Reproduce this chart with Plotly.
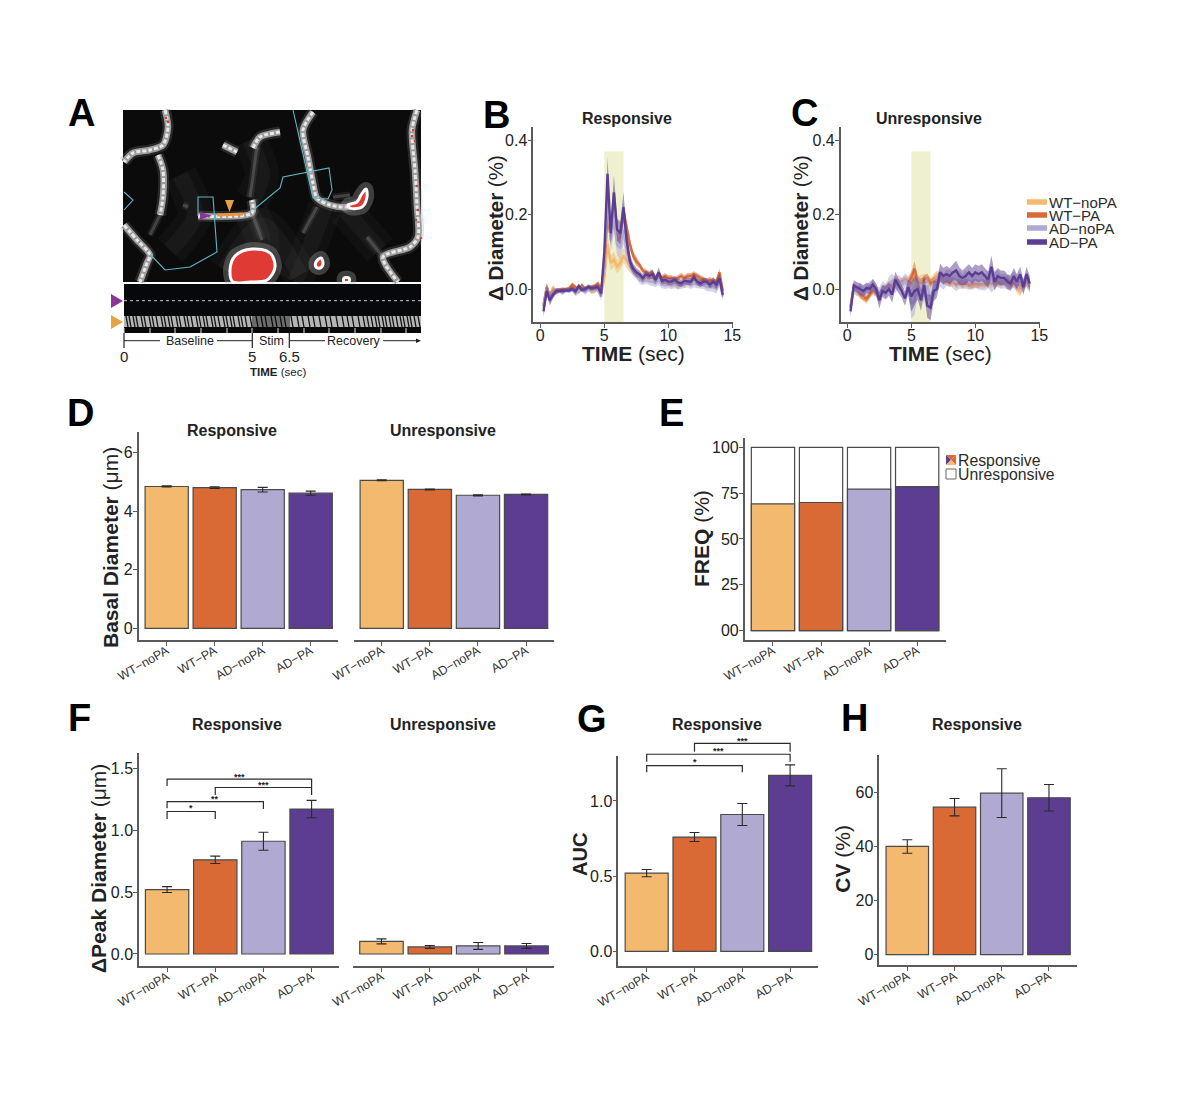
#!/usr/bin/env python3
"""Multi-panel figure: vessel imaging schematic, diameter time courses and bar summaries."""

from __future__ import annotations

import plotly.graph_objects as go

W, H = 1200, 1097
FONT = "Liberation Sans"
AXIS_GREY = "#5a5a5a"
TEXT = "#222222"

GROUPS = ["WT\u2212noPA", "WT\u2212PA", "AD\u2212noPA", "AD\u2212PA"]
COLORS = ["#f3b96f", "#d96a36", "#b0a9d2", "#5c3d92"]

# ---- time courses (panels B, C)
TIME_SEC = [
    0.25, 0.5, 0.75, 1.0, 1.25, 1.5, 1.75, 2.0, 2.25, 2.5,
    2.75, 3.0, 3.25, 3.5, 3.75, 4.0, 4.25, 4.5, 4.75, 5.0,
    5.25, 5.5, 5.75, 6.0, 6.25, 6.5, 6.75, 7.0, 7.25, 7.5,
    7.75, 8.0, 8.25, 8.5, 8.75, 9.0, 9.25, 9.5, 9.75, 10.0,
    10.25, 10.5, 10.75, 11.0, 11.25, 11.5, 11.75, 12.0, 12.25, 12.5,
    12.75, 13.0, 13.25, 13.5, 13.75, 14.0, 14.25,
]
STIM_START, STIM_END, STIM_TOP = 5.0, 6.5, 0.37

B_WT_NOPA = [
    -.04, .005, -.02, .005, -.01, -.005, -.005, .0, -.002, .003,
    .0, -.008, .005, -.005, .002, -.008, -.006, .005, -.015, .03,
    .12, .07, .08, .06, .07, .09, .075, .06, .05, .04,
    .03, .03, .025, .03, .03, .02, .035, .02, .015, .015,
    .01, .015, .005, .015, .01, .02, .02, .025, .02, .02,
    .025, .02, .01, .025, .01, .03, -.005,
]
B_WT_PA = [
    -.045, .005, -.02, -.005, -.005, -.003, .0, -.002, .002, .012,
    .005, -.005, .01, .0, .005, .005, .008, .015, .0, .06,
    .2, .14, .19, .13, .14, .21, .16, .12, .09, .075,
    .065, .05, .045, .04, .045, .03, .04, .03, .035, .03,
    .03, .025, .03, .035, .03, .035, .035, .04, .035, .03,
    .025, .02, .025, .02, .02, .045, -.005,
]
B_AD_NOPA = [
    -.05, .0, -.025, -.01, -.005, -.005, -.01, -.003, -.005, .0,
    -.012, -.005, .002, -.008, .0, -.003, .002, -.003, -.02, .07,
    .26, .13, .2, .12, .11, .16, .1, .07, .05, .04,
    .025, .02, .025, .02, .02, .015, .025, .012, .01, .012,
    .01, .012, .01, .01, .012, .015, .01, .015, .012, .01,
    .01, .005, .005, .005, .0, .02, -.02,
]
B_AD_PA = [
    -.06, -.005, -.03, -.015, -.005, -.004, -.005, -.002, -.003, .001,
    -.006, .008, -.002, .0, .006, .002, .003, .006, -.012, .1,
    .31, .15, .26, .16, .15, .22, .13, .075, .055, .045,
    .04, .03, .04, .035, .04, .025, .045, .022, .025, .02,
    .02, .025, .018, .015, .022, .02, .02, .032, .02, .015,
    .02, .02, .012, .02, .012, .03, -.015,
]
B_SEM_WT = [
    .012, .012, .012, .008, .006, .005, .005, .005, .005, .006,
    .006, .006, .006, .006, .006, .006, .006, .006, .008, .015,
    .025, .02, .02, .018, .018, .02, .02, .015, .012, .012,
    .01, .008, .008, .008, .008, .008, .008, .008, .008, .008,
    .008, .008, .008, .008, .008, .008, .008, .008, .008, .008,
    .008, .008, .008, .008, .008, .01, .01,
]
B_SEM_AD = [
    .015, .015, .014, .01, .008, .006, .006, .006, .006, .007,
    .007, .007, .007, .007, .007, .007, .007, .007, .01, .02,
    .045, .03, .045, .03, .03, .04, .025, .018, .014, .012,
    .01, .01, .01, .01, .012, .01, .014, .01, .01, .01,
    .01, .01, .01, .01, .01, .01, .01, .01, .01, .01,
    .01, .01, .01, .012, .012, .014, .012,
]

C_WT_NOPA = [
    -.045, .008, .0, -.012, -.025, -.03, -.012, .002, -.008, -.015,
    .0, .005, .012, .02, .02, .015, .012, .02, .015, .025,
    .025, .02, .025, .03, .025, .02, .03, .04, .035, .025,
    .03, .02, .015, .025, .02, .015, .012, .018, .01, .012,
    .015, .01, .012, .015, .012, .018, .015, .012, .02, .015,
    .01, .015, .0, -.008, .012, .018, .005,
]
C_WT_PA = [
    -.05, .005, -.005, -.015, -.02, -.025, -.015, -.005, -.01, -.02,
    -.005, .0, .01, .015, .02, .018, .02, .025, .02, .03,
    .055, .02, .015, .025, .03, .015, .02, .025, .03, .022,
    .02, .015, .025, .012, .018, .012, .02, .01, .012, .015,
    .012, .018, .015, .02, .018, .02, .02, .018, .022, .025,
    .015, .018, .012, .01, .015, .02, .012,
]
C_AD_NOPA = [
    -.05, .0, -.005, .005, -.01, .0, .008, .01, -.005, -.018,
    .005, -.005, .015, .02, .01, .02, .012, .022, .015, -.04,
    -.03, .01, .0, -.01, .01, -.03, .0, .015, .03, .02,
    .03, .03, .025, .02, .025, .02, .025, .02, .02, .025,
    .02, .02, .018, .025, .02, .025, .03, .02, .022, .018,
    .02, .025, .015, .018, .01, .025, .01,
]
C_AD_PA = [
    -.06, .01, .005, .0, -.005, .003, .0, .012, .0, -.03,
    -.005, -.01, .0, -.015, .025, .01, -.005, -.025, .005, -.02,
    -.005, .0, -.03, .01, -.045, -.05, -.005, .0, .045, .035,
    .04, .035, .045, .05, .035, .03, .035, .045, .035, .045,
    .04, .045, .035, .025, .06, .02, .035, .03, .03, .02,
    .015, .035, .02, .04, .005, .04, .015,
]
C_SEM_WT = [
    .012, .012, .01, .01, .01, .01, .01, .01, .01, .01,
    .01, .01, .01, .01, .01, .01, .01, .01, .012, .018,
    .02, .014, .012, .012, .012, .012, .012, .01, .01, .01,
    .01, .01, .01, .01, .01, .01, .01, .01, .01, .01,
    .01, .01, .01, .01, .01, .01, .01, .01, .01, .01,
    .01, .01, .012, .012, .012, .012, .012,
]
C_SEM_AD = [
    .016, .014, .014, .014, .016, .014, .014, .016, .016, .022,
    .016, .018, .018, .022, .022, .018, .018, .02, .02, .04,
    .04, .028, .028, .026, .032, .034, .028, .022, .024, .022,
    .022, .022, .022, .026, .024, .02, .024, .022, .022, .022,
    .022, .022, .022, .022, .03, .024, .022, .02, .02, .02,
    .02, .022, .02, .02, .02, .02, .02,
]

# ---- bar panels
D_RESP = [4.84, 4.80, 4.73, 4.61]
D_RESP_ERR = [0.02, 0.03, 0.08, 0.07]
D_UNRESP = [5.05, 4.74, 4.54, 4.57]
D_UNRESP_ERR = [0.015, 0.015, 0.02, 0.015]

E_RESPONSIVE = [69.2, 69.9, 77.2, 78.5]
E_TOTAL = [100, 100, 100, 100]

F_RESP = [0.52, 0.76, 0.91, 1.17]
F_RESP_ERR = [0.024, 0.03, 0.073, 0.07]
F_UNRESP = [0.102, 0.057, 0.065, 0.065]
F_UNRESP_ERR = [0.02, 0.012, 0.028, 0.02]

G_AUC = [0.52, 0.76, 0.91, 1.17]
G_AUC_ERR = [0.024, 0.03, 0.073, 0.07]

H_CV = [40.0, 54.5, 59.7, 58.0]
H_CV_ERR = [2.5, 3.2, 9.0, 4.9]

# significance brackets: from group, to group, bar height, left tip, right tip, stars, star height
F_BRACKETS = [
    (0, 3, 1.411, 1.357, 1.346, "***", 1.43),
    (1, 3, 1.344, 1.284, 1.284, "***", 1.365),
    (0, 2, 1.23, 1.177, 1.17, "**", 1.255),
    (0, 1, 1.15, 1.09, 1.09, "*", 1.175),
]
G_BRACKETS = [
    (1, 3, 1.384, 1.328, 1.328, "***", 1.402),
    (0, 3, 1.311, 1.262, 1.262, "***", 1.333),
    (0, 2, 1.235, 1.191, 1.191, "*", 1.26),
]

# ---- panel A drawing, in page pixels
VESSELS = [
    [(165, 110), (168, 127), (163, 145), (150, 150), (133, 153), (124, 162)],
    [(158, 155), (163, 170), (163, 197), (160, 215)],
    [(124, 225), (137, 240), (150, 255), (147, 263), (140, 282)],
    [(280, 132), (260, 137), (253, 148)],
    [(313, 112), (303, 130), (308, 157), (313, 183), (317, 198), (330, 205), (347, 207), (360, 203)],
    [(417, 110), (412, 130), (415, 170), (417, 207), (418, 237), (410, 247), (383, 257), (398, 282)],
    [(198, 216), (252, 213), (252, 200)],
    [(223, 145), (237, 152)],
]
FAINT_VESSELS = [
    [(333, 197), (350, 195)],
    [(317, 207), (303, 233)],
    [(383, 257), (367, 237)],
    [(183, 205), (188, 207)],
    [(257, 147), (250, 197)],
    [(252, 213), (262, 240)],
    [(160, 215), (150, 235)],
]
HAZE = [
    [(252, 213), (262, 237), (262, 250)],
    [(250, 140), (262, 175), (252, 200)],
    [(325, 207), (305, 260), (295, 282)],
    [(345, 210), (380, 250)],
    [(180, 175), (195, 215), (170, 250)],
    [(225, 270), (262, 225), (300, 275)],
]
RED_BLOBS = [
    [(230, 270), (235, 256), (252, 249), (270, 253), (275, 267), (267, 280), (250, 282), (233, 282)],
    [(361, 195), (366, 189), (367, 197), (362, 207), (350, 208), (348, 205), (357, 202)],
    [(316, 262), (321, 258), (323, 264), (320, 268), (316, 267)],
    [(344, 278), (349, 278), (349, 282), (344, 282)],
]
RED_SPOTS_X = [413, 412, 415, 417, 418, 416, 421, 166, 168]
RED_SPOTS_Y = [130, 136, 141, 186, 210, 220, 238, 118, 122]
CYAN_PATHS = [
    [(293, 110), (313, 198), (328, 199), (332, 190), (329, 168), (283, 177), (280, 188), (253, 210)],
    [(198, 216), (198, 197), (213, 197), (217, 252), (190, 267), (165, 270), (150, 254)],
    [(124, 192), (133, 200), (124, 210)],
]
KYMO_STREAK_X = [
    126, 129, 133, 136, 141, 144, 149, 152, 156, 161, 164, 168, 171, 176, 179, 184, 187, 191, 196, 199,
    203, 206, 211, 214, 218, 223, 226, 230, 233, 238, 241, 245, 250, 256, 261, 265, 271, 275, 280, 284,
    291, 297, 302, 308, 313, 319, 325, 330, 336, 342, 347, 352, 358, 363, 367, 371, 375, 378, 382, 385,
    389, 392, 396, 400, 403, 407, 410, 414, 418,
]
KYMO_TICK_X = [124, 150, 175, 201, 227, 252, 278, 304, 329, 355, 381, 406]

fig = go.Figure()
annotations: list[dict] = []
shapes: list[dict] = []
layout_axes: dict = {}


def dom_x(x0, x1):
    return [x0 / W, x1 / W]


def dom_y(y_top, y_bottom):
    return [1 - y_bottom / H, 1 - y_top / H]


def label(x, y, text, size, angle=0, color=TEXT, anchor="center"):
    annotations.append(dict(
        x=x / W, y=1 - y / H, xref="paper", yref="paper", text=text, showarrow=False,
        xanchor=anchor, yanchor="middle", textangle=angle,
        font=dict(family=FONT, size=size, color=color),
    ))


def draw_path(points, color, width, opacity=1.0, dash="solid"):
    fig.add_trace(go.Scatter(
        x=[p[0] for p in points], y=[p[1] for p in points], mode="lines",
        line=dict(color=color, width=width, shape="spline", smoothing=0.8, dash=dash), opacity=opacity,
        xaxis="x", yaxis="y", hoverinfo="skip",
    ))


def draw_poly(points, fill, line_color=None, line_width=0, smooth=False):
    fig.add_trace(go.Scatter(
        x=[p[0] for p in points] + [points[0][0]], y=[p[1] for p in points] + [points[0][1]],
        mode="lines", fill="toself", fillcolor=fill,
        line=dict(color=line_color or fill, width=line_width, shape="spline" if smooth else "linear"),
        xaxis="x", yaxis="y", hoverinfo="skip",
    ))


def straight(xs, ys, color, width, dash="solid"):
    fig.add_trace(go.Scatter(
        x=xs, y=ys, mode="lines", line=dict(color=color, width=width, dash=dash),
        xaxis="x", yaxis="y", hoverinfo="skip",
    ))


def set_axes(n, x_px, y_px, xrange, yrange, *, yaxis_visible=True, **kw):
    xname, yname = ("xaxis", "yaxis") if n == 1 else (f"xaxis{n}", f"yaxis{n}")
    tick_font = dict(family=FONT, size=kw.get("tick_size", 16), color=TEXT)
    layout_axes[xname] = dict(
        domain=dom_x(*x_px), range=xrange, anchor=f"y{n}", showgrid=False, zeroline=False,
        showline=True, linecolor=AXIS_GREY, linewidth=1.5, ticks="outside", ticklen=4,
        tickcolor=AXIS_GREY, tickwidth=1.2, tickfont=kw.get("xfont", tick_font),
        tickangle=kw.get("xangle", 0), tickvals=kw.get("xticks"), ticktext=kw.get("xticktext"),
        ticklabelstandoff=kw.get("xstandoff", -6), fixedrange=True,
    )
    layout_axes[yname] = dict(
        domain=dom_y(*y_px), range=yrange, anchor=f"x{n}", showgrid=False, zeroline=False,
        showline=yaxis_visible, linecolor=AXIS_GREY, linewidth=1.5,
        ticks="outside" if yaxis_visible else "", ticklen=4, tickcolor=AXIS_GREY, tickwidth=1.2,
        tickfont=tick_font, showticklabels=yaxis_visible,
        tickvals=kw.get("yticks"), ticktext=kw.get("yticktext"), tickformat=kw.get("yformat"),
        ticklabelstandoff=-3, fixedrange=True,
    )


def rgba(hex_color, alpha):
    r, g, b = int(hex_color[1:3], 16), int(hex_color[3:5], 16), int(hex_color[5:7], 16)
    return f"rgba({r},{g},{b},{alpha})"


def time_panel(n, x_px, xrange, series, sems):
    set_axes(n, x_px, (127, 322.3), xrange, [-0.0893, 0.4357],
             xticks=[0, 5, 10, 15], yticks=[0.0, 0.2, 0.4], yformat=".1f")
    shapes.append(dict(
        type="rect", xref=f"x{n}", yref=f"y{n}", x0=STIM_START, x1=STIM_END, y0=-0.0893, y1=STIM_TOP,
        fillcolor="#eef0cf", line_width=0, layer="below",
    ))
    for values, sem, color in zip(series, sems, COLORS):
        upper = [v + s for v, s in zip(values, sem)]
        lower = [v - s for v, s in zip(values, sem)]
        fig.add_trace(go.Scatter(
            x=TIME_SEC + TIME_SEC[::-1], y=upper + lower[::-1], mode="lines", fill="toself",
            fillcolor=rgba(color, 0.5), line=dict(width=0), xaxis=f"x{n}", yaxis=f"y{n}", hoverinfo="skip",
        ))
        fig.add_trace(go.Scatter(
            x=TIME_SEC, y=values, mode="lines", line=dict(color=color, width=2.4),
            xaxis=f"x{n}", yaxis=f"y{n}",
        ))


BAR_XFONT = dict(family=FONT, size=12.5, color="#333333")


def bar_panel(n, x_px, y_px, xrange, yrange, values, errors=None, yticks=None, yaxis_visible=True, yticktext=None, yformat=None):
    set_axes(n, x_px, y_px, xrange, yrange, yaxis_visible=yaxis_visible, yticks=yticks, yticktext=yticktext,
             yformat=yformat, xangle=-30, xfont=BAR_XFONT, xstandoff=-7)
    fig.add_trace(go.Bar(
        x=GROUPS, y=values, width=0.9, marker=dict(color=COLORS, line=dict(color="#4a4a4a", width=1.2)),
        error_y=dict(type="data", array=errors, color="#2a2a2a", thickness=1.1, width=5) if errors else None,
        xaxis=f"x{n}", yaxis=f"y{n}",
    ))


def brackets(n, specs, y_ref=None):
    y_ref = y_ref or f"y{n}"
    for start, end, level, left_tip, right_tip, stars, star_y in specs:
        a, b = GROUPS[start], GROUPS[end]
        fig.add_trace(go.Scatter(
            x=[a, a, b, b], y=[left_tip, level, level, right_tip], mode="lines",
            line=dict(color="#2a2a2a", width=1.2), xaxis=f"x{n}", yaxis=y_ref,
        ))
        annotations.append(dict(
            x=(start + end) / 2, y=star_y, xref=f"x{n}", yref=y_ref, text=f"<b>{stars}</b>", showarrow=False,
            font=dict(family=FONT, size=9, color="#222222"),
        ))


# ---- overlay axes in page pixels, holds panel A and the legends
layout_axes["xaxis"] = dict(domain=[0, 1], range=[0, W], visible=False, fixedrange=True)
layout_axes["yaxis"] = dict(domain=[0, 1], range=[H, 0], visible=False, fixedrange=True, anchor="x")

# micrograph
draw_poly([(123, 110), (421, 110), (421, 282), (123, 282)], "#0b0b0c")
for path in HAZE:
    draw_path(path, "#8a8a8a", 34, 0.05)
    draw_path(path, "#8a8a8a", 16, 0.07)
for path in FAINT_VESSELS:
    draw_path(path, "#8a8a8a", 7, 0.14)
    draw_path(path, "#9a9a9a", 3, 0.3)
for path in VESSELS:
    draw_path(path, "#8c8c8c", 11, 0.22)
    draw_path(path, "#9c9c9c", 6.5)
    draw_path(path, "#e8e8e8", 3, dash="4px,2px")
for blob in RED_BLOBS:
    draw_path(blob + [blob[0]], "#b5b5b5", 14, 0.3)
    draw_poly(blob, "#df3a33", "#ffffff", 3, smooth=True)
fig.add_trace(go.Scatter(
    x=RED_SPOTS_X, y=RED_SPOTS_Y, mode="markers", marker=dict(color="#d8413c", size=2.5),
    xaxis="x", yaxis="y", hoverinfo="skip",
))
for path in CYAN_PATHS:
    straight([p[0] for p in path], [p[1] for p in path], "#5fb6c4", 1.1)
straight([217, 243], [215, 214], "#e8963f", 3)
draw_poly([(200, 212), (200, 219.5), (212, 215.7)], "#8a359a")
draw_poly([(225, 200), (234, 200), (229.5, 212)], "#e8a045")

# kymograph
draw_poly([(124, 284), (421, 284), (421, 333), (124, 333)], "#07080c")
straight([124, 421], [300.7, 300.7], "#c9c9c9", 1, dash="dot")
draw_poly([(124, 316), (421, 316), (421, 327), (124, 327)], "#b4b4b4")
streak_x, streak_y = [], []
for sx in KYMO_STREAK_X:
    streak_x += [sx, sx + 2, None]
    streak_y += [316, 327, None]
straight(streak_x, streak_y, "#111111", 1.3)
draw_poly([(252, 316), (290, 316), (290, 327), (252, 327)], "rgba(0,0,0,0.4)")
tick_x, tick_y = [], []
for tx in KYMO_TICK_X:
    tick_x += [tx, tx, None]
    tick_y += [328, 333, None]
straight(tick_x, tick_y, "#dddddd", 1)
draw_poly([(111, 294), (111, 308), (123, 301)], "#8a359a")
draw_poly([(111, 315), (111, 329), (123, 322)], "#e8a045")

# timeline
for vx in (124, 252.3, 289.3):
    straight([vx, vx], [333, 348], "#222222", 1.2)
straight([124, 160], [340.7, 340.7], "#222222", 1)
straight([217, 252], [340.7, 340.7], "#222222", 1)
straight([289, 325], [340.7, 340.7], "#222222", 1)
straight([383, 416], [340.7, 340.7], "#222222", 1)
draw_poly([(416, 338.5), (416, 343), (421, 340.7)], "#222222")
label(190, 340.5, "Baseline", 12.5)
label(271.7, 340.5, "Stim", 12.5)
label(354, 340.5, "Recovery", 12.5)
label(124, 356.7, "0", 15)
label(252.3, 356.7, "5", 15)
label(289.3, 356.7, "6.5", 15)
label(278, 371.7, "<b>TIME</b> (sec)", 11.5)

# panel B/C legend, entries sit tight as in the source figure
for ly, name, color in zip([202, 215, 228, 242], GROUPS, COLORS):
    straight([1027, 1047], [ly, ly], color, 5.5)
    label(1047, ly, name, 15, anchor="left", color="#2b2b2b")

# panel E legend
sq_x0, sq_x1, sq_y0, sq_y1 = 946, 956, 455, 465
mid = ((sq_x0 + sq_x1) / 2, (sq_y0 + sq_y1) / 2)
draw_poly([(sq_x0, sq_y0), (sq_x1, sq_y0), mid], COLORS[1])
draw_poly([(sq_x1, sq_y0), (sq_x1, sq_y1), mid], COLORS[1])
draw_poly([(sq_x0, sq_y0), (sq_x0, sq_y1), mid], COLORS[3])
draw_poly([(sq_x0, sq_y1), (sq_x1, sq_y1), mid], COLORS[0])
draw_poly([(946, 469), (956, 469), (956, 479), (946, 479)], "#ffffff", "#666666", 1)
label(956, 460.7, "Responsive", 15.8, anchor="left", color="#2b2b2b")
label(956, 474, "Unresponsive", 15.8, anchor="left", color="#2b2b2b")

# ---- B and C
time_panel(2, (533.3, 733), [-0.547, 15.05], [B_WT_NOPA, B_WT_PA, B_AD_NOPA, B_AD_PA],
           [B_SEM_WT, B_SEM_WT, B_SEM_AD, B_SEM_AD])
time_panel(3, (840.7, 1040), [-0.517, 15.05], [C_WT_NOPA, C_WT_PA, C_AD_NOPA, C_AD_PA],
           [C_SEM_WT, C_SEM_WT, C_SEM_AD, C_SEM_AD])

# ---- D
bar_panel(4, (138.7, 338.3), (431.7, 640), [-0.583, 3.575], [-0.40, 6.71], D_RESP, D_RESP_ERR, yticks=[0, 2, 4, 6])
bar_panel(5, (353.7, 553.7), (431.7, 640), [-0.583, 3.575], [-0.40, 6.71], D_UNRESP, D_UNRESP_ERR, yaxis_visible=False)

# ---- E
set_axes(6, (744.7, 946), (438.3, 640), [-0.588, 3.6], [-5.07, 104.9], yticks=[0, 25, 50, 75, 100],
         yticktext=["00", "25", "50", "75", "100"], xangle=-30, xfont=BAR_XFONT, xstandoff=-7)
fig.add_trace(go.Bar(x=GROUPS, y=E_TOTAL, width=0.9, marker=dict(color="#ffffff", line=dict(color="#4a4a4a", width=1.2)),
                     xaxis="x6", yaxis="y6"))
fig.add_trace(go.Bar(x=GROUPS, y=E_RESPONSIVE, width=0.9, marker=dict(color=COLORS, line=dict(color="#4a4a4a", width=1.2)),
                     xaxis="x6", yaxis="y6"))

# ---- F
bar_panel(7, (139, 339.3), (753.3, 966), [-0.583, 3.575], [-0.097, 1.62], F_RESP, F_RESP_ERR,
          yticks=[0.0, 0.5, 1.0, 1.5], yformat=".1f")
brackets(7, F_BRACKETS)
bar_panel(8, (353.3, 554.3), (753.3, 966), [-0.583, 3.575], [-0.097, 1.62], F_UNRESP, F_UNRESP_ERR, yaxis_visible=False)

# ---- G, the brackets stand above the axis so they get a taller twin y axis on the same scale
bar_panel(9, (618.3, 818.3), (756, 966), [-0.594, 3.59], [-0.0978, 1.299], G_AUC, G_AUC_ERR,
          yticks=[0.0, 0.5, 1.0], yformat=".1f")
layout_axes["yaxis11"] = dict(
    domain=dom_y(730, 966), range=[-0.0978, 1.4725], anchor="x9", visible=False, fixedrange=True,
)
brackets(9, G_BRACKETS, y_ref="y11")

# ---- H
bar_panel(10, (879.3, 1077.3), (755, 965.3), [-0.593, 3.6], [-3.92, 73.8], H_CV, H_CV_ERR, yticks=[0, 20, 40, 60])

# panel letters
for letter, lx, ly in [("A", 81, 113), ("B", 496.7, 115), ("C", 804, 113), ("D", 80.7, 413),
                       ("E", 671.7, 413), ("F", 79.3, 718), ("G", 592, 719), ("H", 854, 718)]:
    label(lx, ly, f"<b>{letter}</b>", 38, color="#000000")

# panel titles
for text, tx, ty in [("Responsive", 626.7, 118), ("Unresponsive", 929.3, 118), ("Responsive", 231.7, 430.5),
                     ("Unresponsive", 443, 430.5), ("Responsive", 237.3, 724.5), ("Unresponsive", 443.3, 724.5),
                     ("Responsive", 716.7, 724.5), ("Responsive", 976.7, 724.5)]:
    label(tx, ty, f"<b>{text}</b>", 16)

# axis titles
label(495, 228, "<b>\u0394 Diameter</b> (%)", 20.5, angle=-90)
label(800, 228, "<b>\u0394 Diameter</b> (%)", 20.5, angle=-90)
label(633.3, 353, "<b>TIME</b> (sec)", 21)
label(940, 353, "<b>TIME</b> (sec)", 21)
label(110, 547, "<b>Basal Diameter</b> (\u03bcm)", 21, angle=-90)
label(701.7, 538.3, "<b>FREQ</b> (%)", 21, angle=-90)
label(98, 869, "<b>\u0394Peak Diameter</b> (\u03bcm)", 21, angle=-90)
label(580, 855, "<b>AUC</b>", 20, angle=-90)
label(841.7, 859, "<b>CV</b> (%)", 21, angle=-90)

fig.update_layout(
    width=W, height=H, margin=dict(l=0, r=0, t=0, b=0, autoexpand=False), paper_bgcolor="#ffffff",
    plot_bgcolor="rgba(0,0,0,0)", showlegend=False, barmode="overlay", annotations=annotations, shapes=shapes,
    **layout_axes,
)
fig.write_html("out.html", config={"displayModeBar": False}, post_script="document.body.style.margin='0';")
